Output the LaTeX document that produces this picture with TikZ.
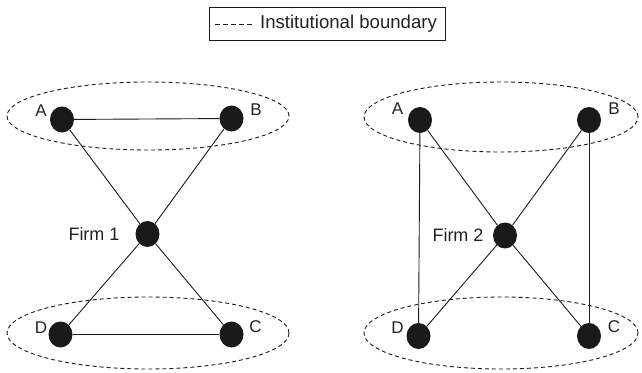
\documentclass[tikz,border=0pt]{standalone}
\usepackage{fontspec}
\setmainfont{Liberation Sans}
\usetikzlibrary{shapes.geometric}
\definecolor{ink}{HTML}{1A1A1A}
\definecolor{txt}{HTML}{222222}
\begin{document}
\begin{tikzpicture}[x=1pt,y=-1pt,
  dot/.style={ellipse,fill=ink,draw=none,minimum width=24pt,minimum height=26pt,inner sep=0pt},
  lab/.style={text=txt,inner sep=0pt,font=\fontsize{17}{17}\selectfont},
  firmlab/.style={text=txt,inner sep=0pt,font=\fontsize{18}{18}\selectfont},
  link/.style={draw=ink,line width=0.9pt},
  bound/.style={draw=ink,line width=0.9pt,dash pattern=on 4pt off 3pt}]
\useasboundingbox (0,0) rectangle (642,372);
% legend
\node[draw=ink,line width=0.9pt,minimum width=236pt,minimum height=33pt,inner sep=0pt] (legend) at (327,23.5) {};
\node[text=txt,inner sep=0pt,font=\fontsize{18.6}{18.6}\selectfont] (legtxt) at (348.5,24) {Institutional boundary};
\coordinate (ls) at (215,24);
\coordinate (le) at (253,24);
\draw[draw=ink,line width=0.8pt,dash pattern=on 5pt off 3pt] (ls) -- (le);
% boundaries
\draw[bound] (148,116) ellipse [x radius=141pt, y radius=34pt];
\draw[bound] (148,333) ellipse [x radius=141pt, y radius=36pt];
\draw[bound] (501,117) ellipse [x radius=137pt, y radius=35pt];
\draw[bound] (501,333) ellipse [x radius=137pt, y radius=36pt];
% left network
\node[dot] (A1) at (62,119.5) {};
\node[dot] (B1) at (231.5,118.5) {};
\node[dot] (F1) at (147.5,234) {};
\node[dot] (D1) at (60.5,334.5) {};
\node[dot] (C1) at (231.5,334.5) {};
\draw[link] (A1) -- (B1);
\draw[link] (D1) -- (C1);
\draw[link] (A1) -- (F1);
\draw[link] (B1) -- (F1);
\draw[link] (F1) -- (D1);
\draw[link] (F1) -- (C1);
\node[lab] (lA1) at (41,110.5) {A};
\node[lab] (lB1) at (256,110) {B};
\node[lab] (lD1) at (41,327.5) {D};
\node[lab] (lC1) at (255.5,327) {C};
\node[firmlab] (lF1) at (94,234) {Firm 1};
% right network
\node[dot] (A2) at (420,120) {};
\node[dot] (B2) at (589,120) {};
\node[dot] (F2) at (505,235.5) {};
\node[dot] (D2) at (418.5,336) {};
\node[dot] (C2) at (589,336) {};
\draw[link] (A2) -- (D2);
\draw[link] (B2) -- (C2);
\draw[link] (A2) -- (F2);
\draw[link] (B2) -- (F2);
\draw[link] (F2) -- (D2);
\draw[link] (F2) -- (C2);
\node[lab] (lA2) at (397.5,109) {A};
\node[lab] (lB2) at (614,109) {B};
\node[lab] (lD2) at (397.5,327.5) {D};
\node[lab] (lC2) at (614,327) {C};
\node[firmlab] (lF2) at (458,235) {Firm 2};
\end{tikzpicture}
\end{document}
